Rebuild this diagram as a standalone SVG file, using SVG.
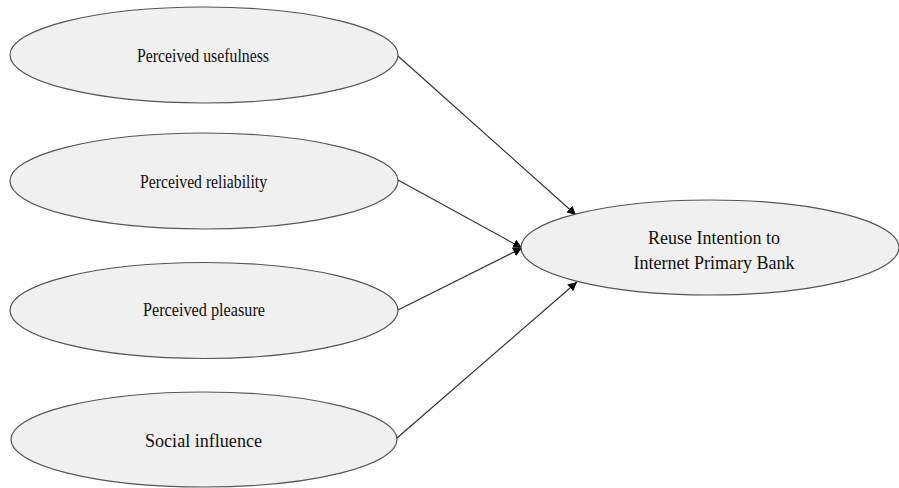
<svg xmlns="http://www.w3.org/2000/svg" width="899" height="488" viewBox="0 0 899 488">
<style>
.node ellipse{fill:#f0f0f0;stroke:#555;stroke-width:1.2}
.node text{font-family:'Liberation Serif','Times New Roman',Times,'DejaVu Serif',serif;font-size:18px;fill:#111;text-anchor:middle}
.edge{stroke:#333;stroke-width:1.2;fill:none;marker-end:url(#arr)}
</style>
<defs>
<marker id="arr" viewBox="0 0 10 10" refX="10" refY="5" markerWidth="9" markerHeight="9" markerUnits="userSpaceOnUse" orient="auto">
<path d="M0,0 L10,5 L0,10 z" fill="#000"/>
</marker>
</defs>
<rect width="899" height="488" fill="#fff"/>
<g id="connectors">
<line class="edge" x1="398" y1="56" x2="576" y2="215"/>
<line class="edge" x1="398" y1="180" x2="522" y2="248"/>
<line class="edge" x1="398" y1="310" x2="522" y2="248"/>
<line class="edge" x1="397" y1="438" x2="577" y2="282"/>
</g>
<g id="n1" class="node">
<ellipse cx="204" cy="55" rx="194" ry="48"/>
<text x="203" y="62" textLength="132" lengthAdjust="spacingAndGlyphs" font-family="Liberation Serif, serif">Perceived usefulness</text>
</g>
<g id="n2" class="node">
<ellipse cx="204" cy="181" rx="194" ry="48"/>
<text x="203.5" y="188" textLength="127" lengthAdjust="spacingAndGlyphs" font-family="Liberation Serif, serif">Perceived reliability</text>
</g>
<g id="n3" class="node">
<ellipse cx="204" cy="310.5" rx="194" ry="48"/>
<text x="204" y="316" textLength="122" lengthAdjust="spacingAndGlyphs" font-family="Liberation Serif, serif">Perceived pleasure</text>
</g>
<g id="n4" class="node">
<ellipse cx="204" cy="439.5" rx="193" ry="47.5"/>
<text x="203.5" y="447" textLength="117" lengthAdjust="spacingAndGlyphs" font-family="Liberation Serif, serif">Social influence</text>
</g>
<g id="n5" class="node">
<ellipse cx="710" cy="247.5" rx="189" ry="47.5"/>
<text x="714" y="244" font-family="Liberation Serif, serif">Reuse Intention to</text>
<text x="714" y="269" font-family="Liberation Serif, serif">Internet Primary Bank</text>
</g>
</svg>
